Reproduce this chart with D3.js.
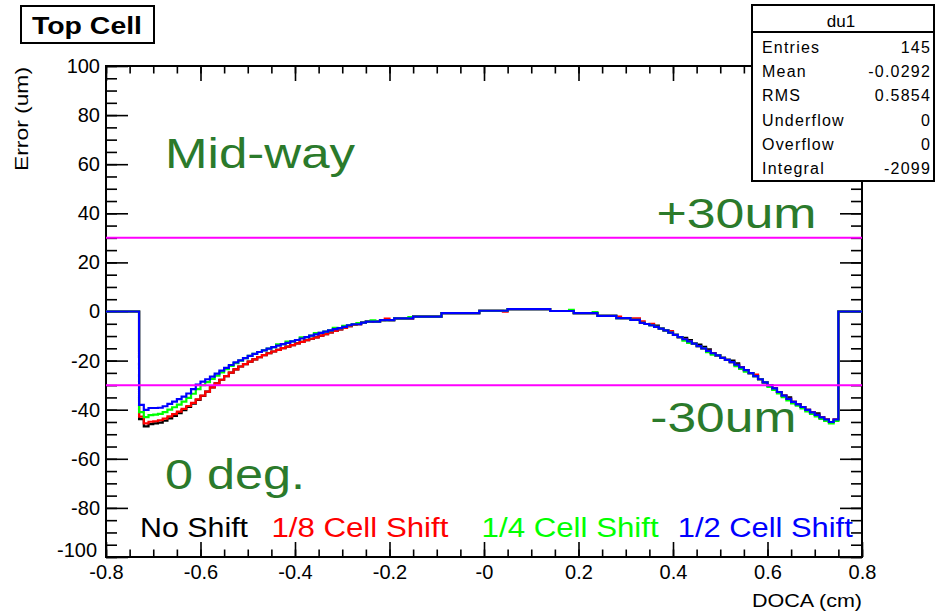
<!DOCTYPE html>
<html>
<head>
<meta charset="utf-8">
<script src="https://cdn.jsdelivr.net/npm/d3@7"></script>
<style>
  html, body { margin: 0; padding: 0; background: #fff; }
  svg { display: block; }
  text { font-family: "Liberation Sans", Arial, Helvetica, sans-serif; }
</style>
</head>
<body>
<svg id="chart" width="938" height="613"></svg>
<script>
// Histogram binning along DOCA (cm): 160 bins of 0.01 from -0.8 to 0.8
const binCount = 160;
const binLow = -0.8;
const binWidth = 0.01;

// Residual error (um) per bin, one array per cell shift
const noShift = [
  0,0,0,0,0,0,0,
  -43.8,-46.8,-45.9,-45.6,-45.3,-44.5,-43.5,-42.5,-41.4,-40.2,
  -38.9,-37.5,-36.0,-34.4,-32.6,-30.9,-29.3,-27.8,-26.3,-24.9,
  -23.6,-22.4,-21.4,-20.4,-19.5,-18.6,-17.8,-17.0,-16.3,-15.6,
  -14.9,-14.3,-13.7,-13.0,-12.4,-11.7,-11.1,-10.5,-9.8,-9.2,
  -8.5,-7.9,-7.3,-6.7,-6.0,-5.4,-5.2,-4.5,-4.1,-4.1,
  -4.1,-3.5,-3.5,-3.5,-2.8,-2.8,-2.8,-2.8,-2.1,-2.1,
  -2.1,-2.1,-2.1,-2.1,-0.7,-0.7,-0.7,-0.7,-0.7,-0.7,
  -0.7,-0.7,0.3,0.3,0.3,0.3,0.3,0.3,1.0,1.0,
  1.0,1.0,1.0,1.0,1.0,1.0,1.0,0.2,0.2,0.2,
  0.2,0.2,-0.7,-0.7,-0.7,-0.7,-0.7,-1.8,-1.8,-1.8,
  -1.8,-2.7,-2.7,-2.7,-3.4,-3.4,-4.6,-5.1,-5.6,-5.7,
  -7.0,-7.7,-8.6,-9.5,-10.4,-10.7,-11.6,-13.1,-13.5,-14.4,
  -15.4,-17.0,-17.9,-18.9,-19.7,-20.0,-21.1,-22.8,-23.9,-25.1,
  -26.3,-27.6,-28.9,-30.1,-31.3,-32.8,-34.3,-35.0,-36.8,-37.8,
  -38.9,-40.1,-41.1,-41.5,-43.1,-44.0,-45.0,-44.0,
  0,0,0,0,0
];
const eighthShift = [
  0,0,0,0,0,0,0,
  -42.8,-45.6,-44.9,-44.7,-44.3,-43.6,-42.7,-41.8,-40.8,-39.7,
  -38.5,-37.2,-35.8,-34.3,-32.6,-30.9,-29.3,-27.8,-26.3,-24.9,
  -23.6,-22.4,-21.4,-20.4,-19.5,-18.6,-17.8,-17.0,-16.3,-15.6,
  -14.9,-14.3,-13.7,-13.0,-12.4,-11.7,-11.1,-10.5,-9.8,-9.2,
  -8.5,-7.9,-7.3,-6.7,-6.0,-5.4,-5.2,-4.5,-4.1,-4.1,
  -4.1,-3.5,-2.9,-3.5,-2.8,-2.8,-2.8,-2.8,-2.1,-2.1,
  -2.1,-2.1,-2.1,-2.1,-0.7,-0.7,-0.7,-0.7,-0.7,-0.7,
  -0.7,-0.7,0.3,0.3,0.3,0.3,0.3,-0.1,1.0,1.0,
  1.0,1.0,1.0,1.0,1.0,1.0,1.0,0.2,0.2,0.2,
  0.2,0.2,-0.7,-0.7,-0.7,-0.7,-0.7,-1.8,-1.8,-1.8,
  -1.8,-2.1,-2.7,-2.7,-2.8,-2.8,-4.0,-5.1,-5.0,-6.3,
  -7.0,-7.7,-8.0,-9.5,-10.4,-11.3,-12.2,-13.1,-14.1,-15.0,
  -16.0,-17.0,-17.9,-18.9,-19.7,-20.6,-21.7,-22.8,-23.9,-25.1,
  -25.7,-27.6,-28.9,-30.1,-31.3,-32.8,-34.3,-35.6,-36.8,-37.8,
  -38.9,-40.1,-41.1,-42.1,-43.1,-44.0,-45.0,-44.0,
  0,0,0,0,0
];
const quarterShift = [
  0,0,0,0,0,0,0,
  -41.0,-43.0,-42.2,-42.0,-41.7,-41.0,-40.0,-39.0,-37.9,-36.7,
  -35.2,-33.5,-31.6,-30.0,-28.8,-27.5,-26.1,-24.8,-23.5,-22.2,
  -21.0,-20.0,-19.0,-18.1,-17.3,-16.5,-15.8,-15.1,-14.5,-13.4,
  -13.3,-12.3,-12.2,-11.6,-10.5,-10.4,-9.8,-8.8,-8.7,-8.2,
  -7.7,-6.7,-6.8,-5.8,-5.6,-5.2,-4.7,-4.5,-4.1,-3.6,
  -4.1,-3.5,-3.5,-3.5,-2.8,-2.8,-2.8,-2.3,-2.1,-2.1,
  -2.1,-2.1,-2.1,-2.1,-0.7,-0.7,-0.7,-0.7,-0.7,-0.7,
  -0.7,-0.7,0.3,0.3,0.3,0.3,0.3,0.3,1.0,1.0,
  1.0,1.0,1.0,1.0,1.0,1.0,1.0,0.2,0.2,0.2,
  0.2,0.7,-0.7,-0.7,-0.7,-0.7,-0.2,-1.8,-1.8,-1.8,
  -1.8,-2.7,-2.7,-2.7,-3.4,-3.4,-4.6,-5.1,-5.6,-6.3,
  -7.0,-7.7,-8.6,-9.5,-10.4,-11.9,-12.8,-13.1,-14.1,-15.0,
  -16.6,-17.6,-17.9,-18.9,-19.7,-20.6,-22.3,-23.4,-24.5,-25.1,
  -26.3,-27.6,-28.9,-30.7,-31.9,-33.4,-34.9,-36.2,-37.4,-38.4,
  -39.5,-40.7,-41.7,-42.7,-43.7,-44.6,-45.6,-44.6,
  0,0,0,0,0
];
const halfShift = [
  0,0,0,0,0,0,0,
  -38.0,-40.1,-39.3,-39.3,-39.2,-38.6,-37.6,-36.7,-35.7,-34.7,
  -33.4,-31.6,-29.8,-28.6,-27.6,-26.5,-25.3,-24.1,-23.0,-21.8,
  -20.7,-19.9,-19.0,-18.1,-17.3,-16.5,-15.8,-15.1,-14.5,-13.9,
  -13.3,-12.8,-12.2,-11.6,-11.0,-10.4,-9.8,-9.3,-8.7,-8.2,
  -7.7,-7.2,-6.8,-6.3,-5.6,-5.2,-5.2,-4.5,-4.1,-4.1,
  -4.1,-3.5,-3.5,-3.5,-2.8,-2.8,-2.8,-2.8,-2.1,-2.1,
  -2.1,-2.1,-2.1,-2.1,-0.7,-0.7,-0.7,-0.7,-0.7,-0.7,
  -0.7,-0.7,0.3,0.3,0.3,0.3,0.3,0.3,1.0,1.0,
  1.0,1.0,1.0,1.0,1.0,1.0,1.0,0.2,0.2,0.2,
  0.2,0.2,-0.7,-0.7,-0.7,-0.7,-0.7,-1.8,-1.8,-1.8,
  -1.8,-2.7,-2.7,-2.7,-3.4,-3.4,-4.6,-5.1,-5.6,-6.3,
  -7.0,-7.7,-8.6,-9.5,-10.4,-11.3,-12.2,-13.1,-14.1,-15.0,
  -16.0,-17.0,-17.9,-18.9,-19.7,-20.6,-21.7,-22.8,-23.9,-25.1,
  -26.3,-27.6,-28.9,-30.1,-31.3,-32.8,-34.3,-35.6,-36.8,-37.8,
  -38.9,-40.1,-41.1,-42.1,-43.1,-44.0,-45.0,-44.0,
  0,0,0,0,0
];

const seriesNames = ["No Shift", "1/8 Cell Shift", "1/4 Cell Shift", "1/2 Cell Shift"];
const seriesColors = ["#000000", "#ff0000", "#00ff00", "#0000ff"];
const seriesValues = [noShift, eighthShift, quarterShift, halfShift];

// Tolerance band (um)
const bandLimits = [30, -30];

// Axes
const xMajorTicks = [-0.8, -0.6, -0.4, -0.2, 0, 0.2, 0.4, 0.6, 0.8];
const xTickLabels = ["-0.8", "-0.6", "-0.4", "-0.2", "-0", "0.2", "0.4", "0.6", "0.8"];
const yMajorTicks = [100, 80, 60, 40, 20, 0, -20, -40, -60, -80, -100];
const yTickLabels = ["100", "80", "60", "40", "20", "0", "-20", "-40", "-60", "-80", "-100"];

// Statistics box
const statTitle = "du1";
const statNames = ["Entries", "Mean", "RMS", "Underflow", "Overflow", "Integral"];
const statValues = ["145", "-0.0292", "0.5854", "0", "0", "-2099"];

const svg = d3.select("#chart");
svg.append("rect").attr("width", 938).attr("height", 613).attr("fill", "#fff");

const frame = { left: 106, right: 862, top: 66, bottom: 557 };
const x = d3.scaleLinear().domain([-0.8, 0.8]).range([frame.left, frame.right]);
const y = d3.scaleLinear().domain([-100, 100]).range([frame.bottom, frame.top]);

const edges = d3.range(binCount + 1).map(i => +(binLow + i * binWidth).toFixed(4));

// Minor tick positions
const xMinorTicks = d3.range(-0.8, 0.8001, 0.05).map(v => +v.toFixed(3));
const yMinorTicks = d3.range(-100, 100.001, 5);

const xMajorLen = 15, xMinorLen = 7.5, yMajorLen = 22, yMinorLen = 11;

function styleAxis(g) {
  g.select(".domain").remove();
  g.selectAll(".tick line").attr("stroke", "#000").attr("stroke-width", 1.6);
}

// bottom
svg.append("g").attr("transform", `translate(0,${frame.bottom})`)
  .call(d3.axisBottom(x).tickValues(xMinorTicks).tickSize(-xMinorLen).tickFormat(""))
  .call(styleAxis);
svg.append("g").attr("transform", `translate(0,${frame.bottom})`)
  .call(d3.axisBottom(x).tickValues(xMajorTicks).tickSize(-xMajorLen).tickPadding(8)
    .tickFormat((d, i) => xTickLabels[i]))
  .call(styleAxis)
  .call(g => g.selectAll(".tick text").attr("font-size", 20).attr("fill", "#000")
    .attr("font-family", "'Liberation Sans', Arial, sans-serif"));
// top
svg.append("g").attr("transform", `translate(0,${frame.top})`)
  .call(d3.axisTop(x).tickValues(xMinorTicks).tickSize(-xMinorLen).tickFormat(""))
  .call(styleAxis);
svg.append("g").attr("transform", `translate(0,${frame.top})`)
  .call(d3.axisTop(x).tickValues(xMajorTicks).tickSize(-xMajorLen).tickFormat(""))
  .call(styleAxis);
// left
svg.append("g").attr("transform", `translate(${frame.left},0)`)
  .call(d3.axisLeft(y).tickValues(yMinorTicks).tickSize(-yMinorLen).tickFormat(""))
  .call(styleAxis);
svg.append("g").attr("transform", `translate(${frame.left},0)`)
  .call(d3.axisLeft(y).tickValues(yMajorTicks).tickSize(-yMajorLen).tickPadding(6)
    .tickFormat((d, i) => yTickLabels[i]))
  .call(styleAxis)
  .call(g => g.selectAll(".tick text").attr("font-size", 20).attr("fill", "#000")
    .attr("font-family", "'Liberation Sans', Arial, sans-serif"))
  // the bottom label sits just above the corner so it clears the x labels
  .call(g => g.selectAll(".tick text").filter(d => d === -100).attr("dy", "-0.05em").attr("x", -9));
// right
svg.append("g").attr("transform", `translate(${frame.right},0)`)
  .call(d3.axisRight(y).tickValues(yMinorTicks).tickSize(-yMinorLen).tickFormat(""))
  .call(styleAxis);
svg.append("g").attr("transform", `translate(${frame.right},0)`)
  .call(d3.axisRight(y).tickValues(yMajorTicks).tickSize(-yMajorLen).tickFormat(""))
  .call(styleAxis);

// Frame
svg.append("rect")
  .attr("x", frame.left).attr("y", frame.top)
  .attr("width", frame.right - frame.left).attr("height", frame.bottom - frame.top)
  .attr("fill", "none").attr("stroke", "#000").attr("stroke-width", 2);

// Step histograms
const line = d3.line().x(d => x(d[0])).y(d => y(d[1]));
seriesValues.forEach((vals, s) => {
  const pts = [];
  vals.forEach((v, i) => { pts.push([edges[i], v]); pts.push([edges[i + 1], v]); });
  svg.append("path")
    .attr("d", line(pts))
    .attr("fill", "none")
    .attr("stroke", seriesColors[s])
    .attr("stroke-width", 2.2)
    .attr("stroke-linejoin", "miter");
});

// Tolerance lines
bandLimits.forEach(v => {
  svg.append("line")
    .attr("x1", x(-0.8)).attr("x2", x(0.8))
    .attr("y1", y(v)).attr("y2", y(v))
    .attr("stroke", "#ff00ff").attr("stroke-width", 2);
});

// Annotations
const green = "#2b7a2b";
const notes = [
  { t: "Mid-way", x: -0.675, y: 58.5, w: 190 },
  { t: "+30um", x: 0.365, y: 34, w: 160 },
  { t: "-30um", x: 0.352, y: -49, w: 146 },
  { t: "0 deg.", x: -0.675, y: -72.5, w: 140 }
];
notes.forEach(n => {
  svg.append("text")
    .attr("x", x(n.x)).attr("y", y(n.y))
    .attr("font-family", "'DejaVu Sans', Verdana, sans-serif")
    .attr("font-size", 42)
    .attr("fill", green)
    .attr("textLength", n.w).attr("lengthAdjust", "spacingAndGlyphs")
    .text(n.t);
});

// Legend
const legendX = [-0.728, -0.45, -0.005, 0.41];
const legendW = [108, 177, 177, 175];
seriesNames.forEach((name, i) => {
  svg.append("text")
    .attr("x", x(legendX[i])).attr("y", y(-92))
    .attr("font-size", 27)
    .attr("fill", seriesColors[i])
    .attr("textLength", legendW[i]).attr("lengthAdjust", "spacingAndGlyphs")
    .text(name);
});

// Axis titles
svg.append("text")
  .attr("transform", `translate(28,${frame.top + 1}) rotate(-90)`)
  .attr("text-anchor", "end")
  .attr("font-size", 18)
  .attr("textLength", 104).attr("lengthAdjust", "spacingAndGlyphs")
  .text("Error (um)");
svg.append("text")
  .attr("x", frame.right).attr("y", 607)
  .attr("text-anchor", "end")
  .attr("font-size", 19)
  .attr("textLength", 110).attr("lengthAdjust", "spacingAndGlyphs")
  .text("DOCA (cm)");

// Title box
svg.append("rect").attr("x", 21).attr("y", 6).attr("width", 133).attr("height", 37)
  .attr("fill", "#fff").attr("stroke", "#000").attr("stroke-width", 2);
svg.append("text").attr("x", 32).attr("y", 34)
  .attr("font-size", 24).attr("font-weight", "bold")
  .attr("textLength", 110).attr("lengthAdjust", "spacingAndGlyphs")
  .text("Top Cell");

// Statistics box
const sb = { x: 752, y: 5, w: 182, h: 176, head: 27 };
svg.append("rect").attr("x", sb.x).attr("y", sb.y).attr("width", sb.w).attr("height", sb.h)
  .attr("fill", "#fff").attr("stroke", "#000").attr("stroke-width", 2);
svg.append("line").attr("x1", sb.x).attr("x2", sb.x + sb.w)
  .attr("y1", sb.y + sb.head).attr("y2", sb.y + sb.head)
  .attr("stroke", "#000").attr("stroke-width", 2);
svg.append("text").attr("x", sb.x + sb.w / 2 - 2).attr("y", sb.y + 22)
  .attr("text-anchor", "middle").attr("font-size", 17).text(statTitle);
statNames.forEach((n, i) => {
  const yy = sb.y + 48 + i * 24.2;
  svg.append("text").attr("x", sb.x + 10).attr("y", yy).attr("font-size", 16)
    .attr("letter-spacing", 1.2).text(n);
  svg.append("text").attr("x", sb.x + sb.w - 3).attr("y", yy)
    .attr("text-anchor", "end").attr("font-size", 16)
    .attr("letter-spacing", 1.2).text(statValues[i]);
});
</script>
</body>
</html>
